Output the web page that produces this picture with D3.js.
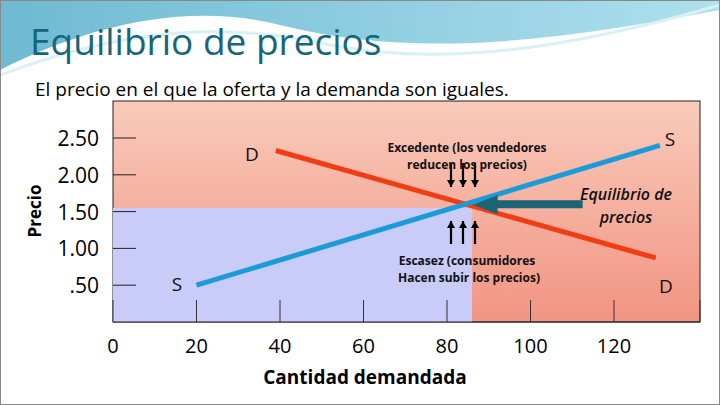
<!DOCTYPE html><html><head><meta charset="utf-8"><script src="https://cdn.jsdelivr.net/npm/d3@7"></script>
<style>body{margin:0;background:#fff}svg{display:block;font-family:"Open Sans",sans-serif}</style></head><body>
<script>
const xTicks=[0,20,40,60,80,100,120];
const yTicks=[0.5,1.0,1.5,2.0,2.5];
const yTickLabels=[".50","1.00","1.50","2.00","2.50"];
const supply=[{q:20,p:0.5},{q:131,p:2.4}];
const demand=[{q:39,p:2.33},{q:130,p:0.87}];
const shortageArea={q:86,p:1.55};
const equilibrium={q:84,p:1.6};

const W=720,H=405;
const svg=d3.select("body").append("svg").attr("width",W).attr("height",H);
const defs=svg.append("defs");
const g1=defs.append("linearGradient").attr("id","bg").attr("x1",0).attr("y1",0).attr("x2",0).attr("y2",1);
g1.append("stop").attr("offset","0").attr("stop-color","#f9cbbb");
g1.append("stop").attr("offset","1").attr("stop-color","#f29482");
const g2=defs.append("linearGradient").attr("id","wave").attr("x1",0).attr("x2",1);
g2.append("stop").attr("offset","0").attr("stop-color","#4aa8c8");
g2.append("stop").attr("offset","1").attr("stop-color","#9ad8e8");
svg.append("path").attr("d","M0,0 H720 V10 C560,40 420,60 280,25 C180,0 80,30 0,70 Z").attr("fill","url(#wave)").attr("opacity",0.8);
svg.append("path").attr("d","M0,75 C120,30 220,20 330,45 C460,70 600,40 720,5").attr("fill","none").attr("stroke","#d8f0f6").attr("stroke-width",3);
svg.append("rect").attr("x",0.5).attr("y",0.5).attr("width",719).attr("height",404).attr("fill","none").attr("stroke","#888");
svg.append("text").attr("x",30).attr("y",55).attr("font-size",37).attr("fill","#17657a").text("Equilibrio de precios");
svg.append("text").attr("x",35).attr("y",96).attr("font-size",19).attr("fill","#000").text("El precio en el que la oferta y la demanda son iguales.");

const x=d3.scaleLinear().domain([0,120]).range([113,614]);
const y=d3.scaleLinear().domain([0,2.5]).range([322,138]);
svg.append("rect").attr("x",113).attr("y",101).attr("width",587).attr("height",221).attr("fill","url(#bg)").attr("stroke","#222").attr("stroke-width",1);
svg.append("rect").attr("x",x(0)).attr("y",y(shortageArea.p)).attr("width",x(shortageArea.q)-x(0)).attr("height",y(0)-y(shortageArea.p)).attr("fill","#c9cbf9");

svg.selectAll(".yt").data(yTicks).join("line").attr("x1",113).attr("x2",136).attr("y1",d=>y(d)).attr("y2",d=>y(d)).attr("stroke","#222");
svg.selectAll(".yl").data(yTicks).join("text").attr("x",99).attr("y",d=>y(d)+8).attr("text-anchor","end").attr("font-size",21).text((d,i)=>yTickLabels[i]);
svg.append("line").attr("x1",113).attr("x2",700).attr("y1",322).attr("y2",322).attr("stroke","#222");
svg.selectAll(".xt").data(xTicks).join("line").attr("x1",d=>x(d)).attr("x2",d=>x(d)).attr("y1",300).attr("y2",322).attr("stroke","#333");
svg.append("line").attr("x1",700).attr("x2",700).attr("y1",300).attr("y2",322).attr("stroke","#333");
svg.selectAll(".xl").data(xTicks).join("text").attr("x",d=>x(d)).attr("y",353).attr("text-anchor","middle").attr("font-size",20).text(d=>d);
svg.append("text").attr("x",365).attr("y",384).attr("text-anchor","middle").attr("font-size",19).attr("font-weight","bold").text("Cantidad demandada");
svg.append("text").attr("transform","translate(41,211) rotate(-90)").attr("text-anchor","middle").attr("font-size",17).attr("font-weight","bold").text("Precio");

const line=d3.line().x(d=>x(d.q)).y(d=>y(d.p));
svg.append("path").attr("d",line(demand)).attr("stroke","#f23d14").attr("stroke-width",5).attr("fill","none");
svg.append("path").attr("d",line(supply)).attr("stroke","#1b9bd7").attr("stroke-width",5).attr("fill","none");

const ar=(x0,y0,y1)=>{svg.append("line").attr("x1",x0).attr("x2",x0).attr("y1",y0).attr("y2",y1).attr("stroke","#000").attr("stroke-width",2.2);
 const d=y1>y0?-1:1; svg.append("path").attr("d",`M${x0-4},${y1+d*7}L${x0},${y1}L${x0+4},${y1+d*7}Z`).attr("fill","#000");};
[451,463,475].forEach(xx=>{ar(xx,163,187);ar(xx,244,221);});
svg.append("rect").attr("x",x(equilibrium.q)+32).attr("y",y(equilibrium.p)-4).attr("width",87).attr("height",8).attr("fill","#1a6474");
svg.append("path").attr("d",`M${x(equilibrium.q)+9},${y(equilibrium.p)+0.5}L${x(equilibrium.q)+34},${y(equilibrium.p)-9}L${x(equilibrium.q)+34},${y(equilibrium.p)+10}Z`).attr("fill","#1a6474");

const t=(s,xx,yy,o={})=>svg.append("text").attr("x",xx).attr("y",yy).attr("text-anchor",o.a||"middle").attr("font-size",o.s||13).attr("font-weight",o.w||"normal").attr("font-style",o.i||"normal").attr("fill","#111").text(s);
t("Excedente (los vendedores",467,152,{w:"bold",s:12});
t("reducen los precios)",467,169,{w:"bold",s:12});
t("Escasez (consumidores",467,265,{w:"bold",s:12});
t("Hacen subir los precios)",469,282,{w:"bold",s:12});
t("Equilibrio de",626,200,{i:"italic",s:16,w:"600"});
t("precios",626,223,{i:"italic",s:16,w:"600"});
t("D",252,161,{s:19});t("S",670,146,{s:19});t("S",177,291,{s:19});t("D",666,293,{s:19});
</script></body></html>
